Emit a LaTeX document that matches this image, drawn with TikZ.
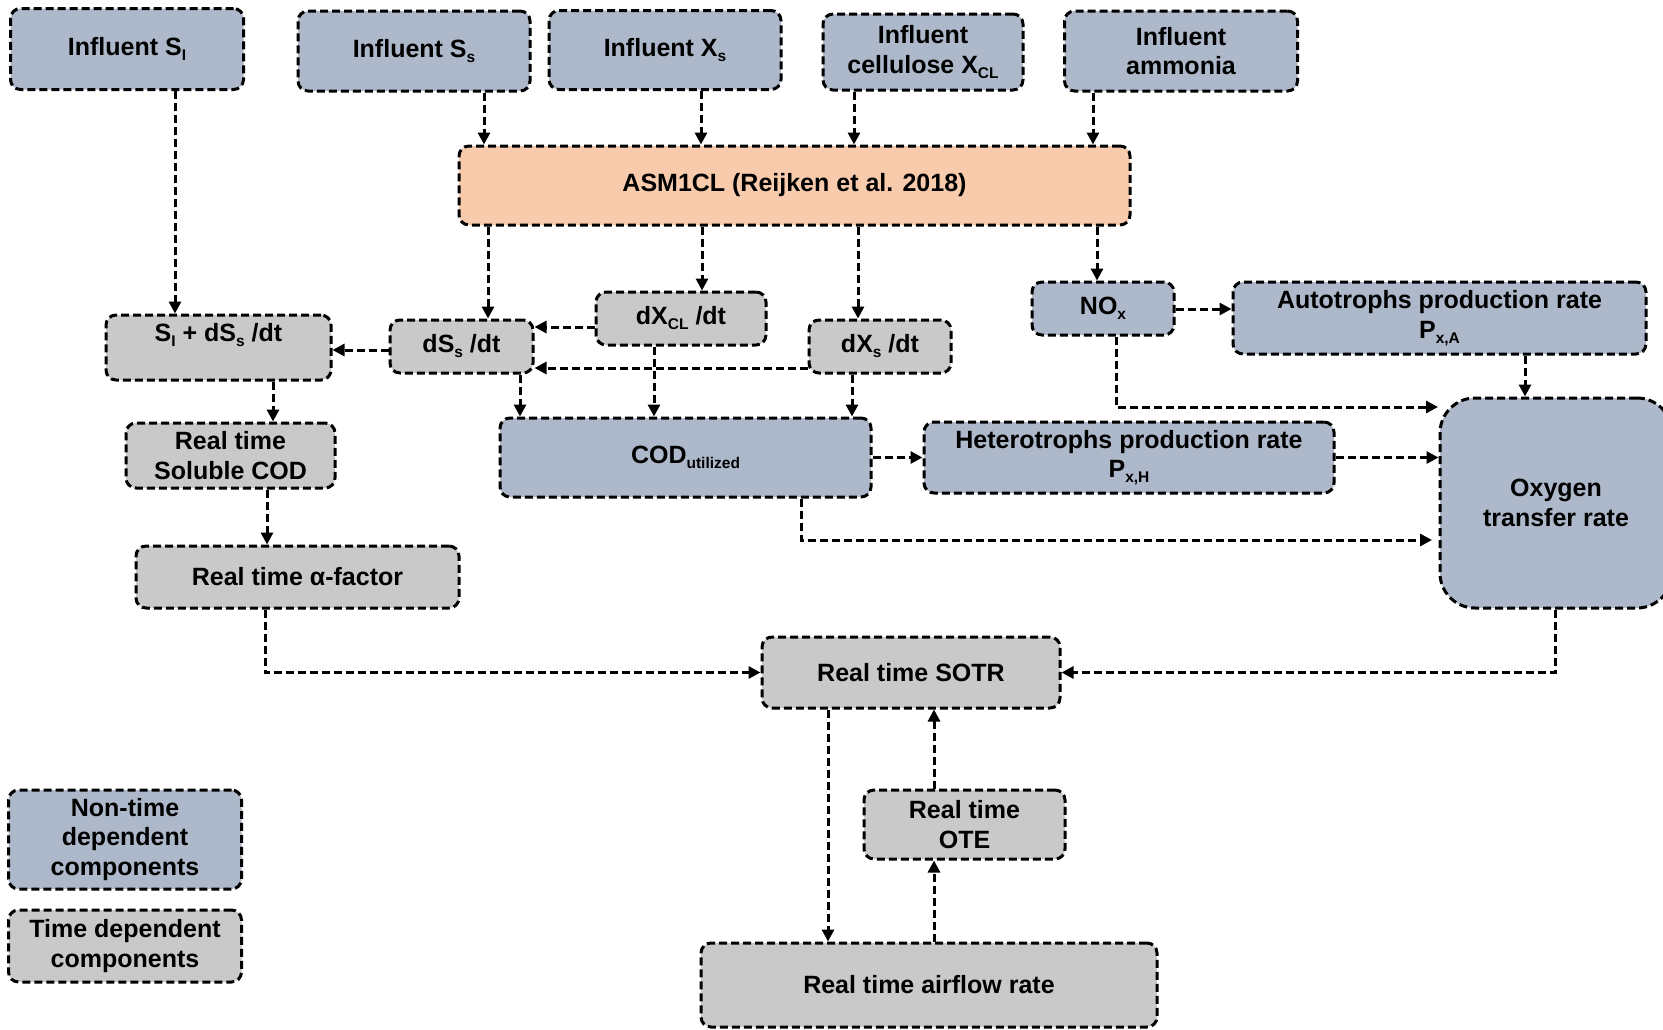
\documentclass[tikz,border=0pt]{standalone}
\usepackage{fontspec}
\setmainfont{Liberation Sans}
\usetikzlibrary{arrows.meta,calc}
\definecolor{bluegray}{HTML}{ADB9CA}
\definecolor{lgray}{HTML}{C9C9C9}
\definecolor{peach}{HTML}{F8CBAD}
\newcommand{\sbs}[1]{\raisebox{-5pt}{\fontsize{15.5}{15.5}\selectfont #1}}
\begin{document}
\begin{tikzpicture}[x=1pt,y=-1pt,
  basebox/.style={draw=black, line width=3pt, dash pattern=on 8pt off 4pt,
    rounded corners=10pt, align=center, inner sep=0pt,
    font=\fontsize{25}{29.5}\selectfont\bfseries, text=black},
  bbox/.style={basebox, fill=bluegray},
  gbox/.style={basebox, fill=lgray},
  obox/.style={basebox, fill=peach},
  arr/.style={draw=black, line width=3pt, dash pattern=on 8pt off 4pt,
    -{Triangle[length=12pt,width=12pt]}}
]
\useasboundingbox (0,0) rectangle (1663,1029);

% nodes
\node[bbox, minimum width=233pt, minimum height=81pt] (SI) at (127,49) {Influent S\sbs{I}};
\node[bbox, minimum width=232pt, minimum height=80pt] (Ss) at (414,51) {Influent S\sbs{s}};
\node[bbox, minimum width=232pt, minimum height=79pt] (Xs) at (665,50) {Influent X\sbs{s}};
\node[bbox, minimum width=200pt, minimum height=76pt] (XCL) at (923,52) {Influent\\cellulose X\sbs{CL}};
\node[bbox, minimum width=233pt, minimum height=80pt] (NH) at (1181,51) {Influent\\ammonia};
\node[obox, minimum width=671pt, minimum height=79pt] (ASM) at (794.5,185.5) {ASM1CL (Reijken et al. 2018)};
\node[gbox, minimum width=225pt, minimum height=65pt] (SIp) at (218.5,347.5) {S\sbs{I} + dS\sbs{s} /dt\\\mbox{}};
\node[gbox, minimum width=143pt, minimum height=53pt] (dSs) at (461.5,346.5) {dS\sbs{s} /dt};
\node[gbox, minimum width=170pt, minimum height=53pt] (dXCL) at (681,318.5) {dX\sbs{CL} /dt};
\node[gbox, minimum width=142pt, minimum height=53pt] (dXs) at (880,346.5) {dX\sbs{s} /dt};
\node[bbox, minimum width=142pt, minimum height=53pt] (NOx) at (1103,308.5) {NO\sbs{x}};
\node[bbox, minimum width=413pt, minimum height=72pt] (Aut) at (1439.5,318) {Autotrophs production rate\\P\sbs{x,A}};
\node[gbox, minimum width=209pt, minimum height=65pt] (Sol) at (230.5,455.5) {Real time\\Soluble COD};
\node[bbox, minimum width=371pt, minimum height=79pt] (COD) at (685.5,457.5) {COD\sbs{utilized}};
\node[bbox, minimum width=410pt, minimum height=71pt] (Het) at (1129,457.5) {Heterotrophs production rate\\P\sbs{x,H}};
\node[bbox, rounded corners=35pt, minimum width=232pt, minimum height=210pt] (Oxy) at (1556,503) {Oxygen\\transfer rate};
\node[gbox, minimum width=323pt, minimum height=62pt] (alf) at (297.5,577) {Real time α-factor};
\node[gbox, minimum width=298pt, minimum height=71pt] (SOTR) at (911,672.5) {Real time SOTR};
\node[gbox, minimum width=201pt, minimum height=69pt] (OTE) at (964.5,824.5) {Real time\\OTE};
\node[gbox, minimum width=456pt, minimum height=84pt] (air) at (929,985) {Real time airflow rate};
\node[bbox, minimum width=233pt, minimum height=99pt] (leg1) at (125,839.5) {Non-time\\dependent\\components};
\node[gbox, minimum width=233pt, minimum height=72pt] (leg2) at (125,946) {Time dependent\\components};

\coordinate (oxa) at (1438,407);
\coordinate (oxb) at (1432,540);

% connectors
\draw[arr] (SI.south -| 175,0) -- (SIp.north -| 175,0);
\draw[arr] (Ss.south -| 484,0) -- (ASM.north -| 484,0);
\draw[arr] (Xs.south -| 701,0) -- (ASM.north -| 701,0);
\draw[arr] (XCL.south -| 854,0) -- (ASM.north -| 854,0);
\draw[arr] (NH.south -| 1093,0) -- (ASM.north -| 1093,0);
\draw[arr] (ASM.south -| 488,0) -- (dSs.north -| 488,0);
\draw[arr] (ASM.south -| 702,0) -- (dXCL.north -| 702,0);
\draw[arr] (ASM.south -| 858,0) -- (dXs.north -| 858,0);
\draw[arr] (ASM.south -| 1097,0) -- (NOx.north -| 1097,0);
\draw[arr] (dSs.west |- 0,350) -- (SIp.east |- 0,350);
\draw[arr] (dXCL.west |- 0,327) -- (dSs.east |- 0,327);
\draw[arr] (dXs.west |- 0,368) -- (dSs.east |- 0,368);
\draw[arr] (dSs.south -| 520,0) -- (COD.north -| 520,0);
\draw[arr] (dXCL.south -| 654,0) -- (COD.north -| 654,0);
\draw[arr] (dXs.south -| 852,0) -- (COD.north -| 852,0);
\draw[arr] (SIp.south -| 273,0) -- (Sol.north -| 273,0);
\draw[arr] (Sol.south -| 267,0) -- (alf.north -| 267,0);
\draw[arr] (alf.south -| 265,0) |- (SOTR.west);
\draw[arr] (Oxy.south -| 1555,0) |- (SOTR.east);
\draw[arr] (NOx.east |- 0,309) -- (Aut.west |- 0,309);
\draw[arr] (NOx.south -| 1116,0) |- (oxa);
\draw[arr] (Aut.south -| 1525,0) -- (Oxy.north -| 1525,0);
\draw[arr] (COD.east) -- (Het.west);
\draw[arr] (Het.east) -- (Oxy.west |- Het.east);
\draw[arr] (COD.south -| 801,0) |- (oxb);
\draw[arr] (SOTR.south -| 828,0) -- (air.north -| 828,0);
\draw[arr] (air.north -| 934,0) -- (OTE.south -| 934,0);
\draw[arr] (OTE.north -| 934,0) -- (SOTR.south -| 934,0);
\end{tikzpicture}
\end{document}
